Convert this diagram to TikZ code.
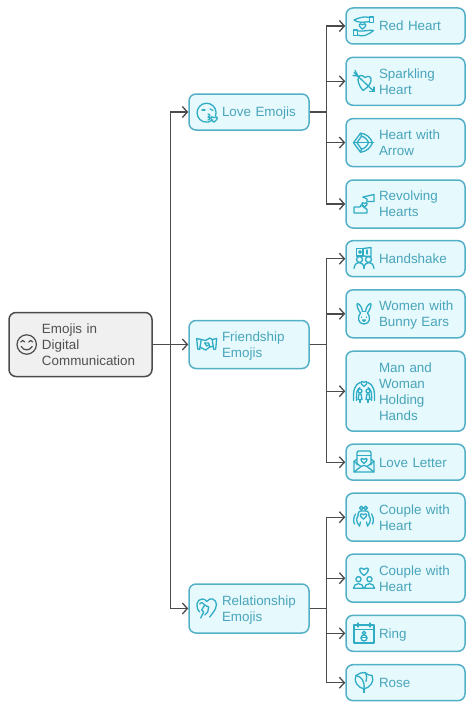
\documentclass[tikz,border=0pt]{standalone}
\usepackage{fontspec}
\setmainfont{Liberation Sans}
\usepackage{xcolor}
\usetikzlibrary{arrows.meta, positioning, calc}
\definecolor{tealline}{RGB}{84, 176, 198}
\definecolor{tealfill}{RGB}{230, 249, 253}
\definecolor{tealtext}{RGB}{72, 164, 186}
\definecolor{tealicon}{RGB}{48, 172, 196}
\definecolor{rootline}{RGB}{75, 75, 75}
\definecolor{rootfill}{RGB}{240, 240, 240}
\definecolor{roottext}{RGB}{80, 80, 80}
\tikzset{
  anybox/.style={draw, line width=1.5pt, rounded corners=7pt, inner xsep=0pt, inner ysep=0pt,
    align=left, font=\fontsize{13.4}{16}\selectfont,
    execute at begin node={\leftskip=33pt\relax\rule{0pt}{12.6pt}},
    execute at end node={\rule[-3pt]{0pt}{3pt}}},
  rootbox/.style={anybox, draw=rootline, fill=rootfill, text=roottext, minimum width=143pt, text width=143pt, minimum height=64pt},
  groupbox/.style={anybox, draw=tealline, fill=tealfill, text=tealtext, minimum width=120pt, text width=120pt},
  leafbox/.style={anybox, draw=tealline, fill=tealfill, text=tealtext, minimum width=119pt, text width=119pt},
  link/.style={line width=1.4pt, draw=rootline, -{Straight Barb[length=5pt,width=11pt,line width=1.3pt]}},
  iconline/.style={draw=tealicon, line width=1.3pt, line cap=round, line join=round},
  faceline/.style={draw=rootline, line width=1.2pt, line cap=round}
}
\newcommand{\heartshape}[3]{\draw[iconline, shift={(#1,#2)}, scale=#3] (0,1) .. controls (-1.6,-0.1) and (-1.1,-1.2) .. (0,-0.4) .. controls (1.1,-1.2) and (1.6,-0.1) .. (0,1) -- cycle;}
\newcommand{\personshape}[2]{\draw[iconline] (#1,#2) circle (2.6) (#1-5,#2+9) .. controls (#1-5,#2+3) and (#1+5,#2+3) .. (#1+5,#2+9) -- cycle;}
\begin{document}
\begin{tikzpicture}[x=1pt, y=-1pt]
  \useasboundingbox (0,0) rectangle (474,709);

  % Root and the three groups
  \node[rootbox] (root) at (80.5,344.5) {Emojis in\\Digital\\Communication};
  \node[groupbox, minimum height=36pt] (love) at (249,112) {Love Emojis};
  \node[groupbox, minimum height=48pt] (friend) at (249,344.5) {Friendship\\Emojis};
  \node[groupbox, minimum height=49pt] (relation) at (249,608.5) {Relationship\\Emojis};

  % Leaves
  \foreach \name/\y/\h/\words in {
      redheart/26/36/{Red Heart},
      sparkling/81.3/48/{Sparkling\\Heart},
      heartarrow/142.6/48/{Heart with\\Arrow},
      revolving/204/48/{Revolving\\Hearts},
      handshake/258.7/36/{Handshake},
      bunny/313.8/48/{Women with\\Bunny Ears},
      holding/391.2/80/{Man and\\Woman\\Holding\\Hands},
      letter/462.2/36/{Love Letter},
      coupleone/517.2/48/{Couple with\\Heart},
      coupletwo/578.2/48/{Couple with\\Heart},
      ring/633.3/36/{Ring},
      rose/682.7/36/{Rose}}
    \node[leafbox, minimum height=\h pt] (\name) at (405.5,\y) {\words};

  % Connectors
  \coordinate (rootbus) at (170.7,344.5);
  \coordinate (lovebus) at (326.7,112);
  \coordinate (friendbus) at (326.7,344.5);
  \coordinate (relationbus) at (326.7,608.5);
  \foreach \group in {love, friend, relation}
    \draw[link] (root.east) -- (rootbus |- root.east) |- (\group.west);
  \foreach \leaf in {redheart, sparkling, heartarrow, revolving}
    \draw[link] (love.east) -- (lovebus |- love.east) |- (\leaf.west);
  \foreach \leaf in {handshake, bunny, holding, letter}
    \draw[link] (friend.east) -- (friendbus |- friend.east) |- (\leaf.west);
  \foreach \leaf in {coupleone, coupletwo, ring, rose}
    \draw[link] (relation.east) -- (relationbus |- relation.east) |- (\leaf.west);

  % Root icon: smiling face
  \begin{scope}[shift={(26.7,344.5)}]
    \draw[faceline] (0,0) circle (9.7);
    \draw[faceline] (-6,-2.5) .. controls (-5,-4.5) and (-3,-4.5) .. (-2,-2.5);
    \draw[faceline] (2,-2.5) .. controls (3,-4.5) and (5,-4.5) .. (6,-2.5);
    \draw[faceline] (-5.5,2) .. controls (-3,6.5) and (3,6.5) .. (5.5,2);
  \end{scope}

  % Love: kissing face
  \begin{scope}[shift={(207,113)}]
    \draw[iconline] (8.5,3) arc (20:-310:9.5);
    \draw[iconline] (-5,-3) -- (-2,-3);
    \draw[iconline] (3,-4) -- (6,-2.5);
    \draw[iconline] (1,1) .. controls (4,2) and (3,4) .. (1,4) .. controls (4,4.5) and (3,7) .. (1,7);
    \heartshape{7}{6}{3.2}
  \end{scope}

  % Friendship: clasped hands
  \begin{scope}[shift={(206.7,344)}]
    \draw[iconline] (-10,-5.5) -- (-5.5,-4.5) -- (-7,5.5) -- (-9,5) -- cycle;
    \draw[iconline] (10,-5.5) -- (5.5,-4.5) -- (7,5.5) -- (9,5) -- cycle;
    \draw[iconline] (-5.5,-4.5) -- (-1,-3.5) -- (3,-6) -- (5.5,-4.5);
    \draw[iconline] (-7,3) -- (-1,6) -- (3,3) -- (6.5,2.5);
    \draw[iconline] (-2,-1) -- (2,-1) -- (3,3);
    \draw[iconline] (-2,-1) -- (0,2) -- (2,1);
  \end{scope}

  % Relationship: heart held by two arms
  \begin{scope}[shift={(206.7,608)}]
    \draw[iconline] (-7,4) .. controls (-12,-1) and (-10,-9) .. (-4.5,-9) .. controls (-2,-9) and (-1,-8) .. (0,-6.5)
      .. controls (2,-9) and (4,-9.5) .. (6,-9) .. controls (11,-7) and (11,-1) .. (6,5) -- (3,9);
    \draw[iconline] (-7,-4) .. controls (-5,-6.5) and (-3,-5) .. (-2,-3) -- (-5,2) -- (-3,4) -- (-6,10);
    \draw[iconline] (-2,-3) -- (2,-1) -- (1,4) -- (-2,7);
  \end{scope}

  % Red Heart: two hands round a heart
  \begin{scope}[shift={(363.5,26.5)}]
    \draw[iconline] (6,-9.5) rectangle (10,-4);
    \draw[iconline] (6,-9) .. controls (1,-10.5) and (-4,-9) .. (-9.5,-6.5) .. controls (-6,-3.5) and (1,-4) .. (6,-5);
    \draw[iconline] (-10,3.5) rectangle (-6,9);
    \draw[iconline] (-6,8.5) .. controls (-1,10.5) and (4,9) .. (10,4) .. controls (6,3) and (3,5) .. (-6,4.5);
    \heartshape{-1}{-0.5}{3.2}
  \end{scope}

  % Sparkling Heart: heart pierced by an arrow
  \begin{scope}[shift={(364,81.5)}]
    \draw[iconline, rotate=-12] (1,9) .. controls (-11,0) and (-6,-9) .. (0,-4) .. controls (6,-10) and (11,-1) .. (1,9) -- cycle;
    \draw[iconline] (-10,-9) -- (10,10);
    \draw[iconline] (-9,-11) -- (-6,-5.5) (-11,-6) -- (-6,-5.5);
    \draw[iconline] (10,5.5) -- (10,10) -- (5.5,10);
  \end{scope}

  % Heart with Arrow: bow and arrow
  \begin{scope}[shift={(363.5,142.7)}]
    \draw[iconline] (-10,0) -- (-3,-9.5) .. controls (3,-9) and (7,-5) .. (9,0) .. controls (7,5) and (3,9) .. (-3,9.5) -- cycle;
    \draw[iconline] (-6.5,0) -- (-2,-6.5) .. controls (1,-6) and (4,-3) .. (5,0) .. controls (4,3) and (1,6) .. (-2,6.5) -- cycle;
    \draw[iconline] (-10,0) -- (10,0);
    \draw[iconline] (-3,-9.5) -- (-2,-6.5) (-3,9.5) -- (-2,6.5);
  \end{scope}

  % Revolving Hearts: two stepped flags
  \begin{scope}[shift={(364,204)}]
    \draw[iconline] (-1,-7) -- (10,-9.5) -- (10,-2.5) -- (3,-2.5);
    \draw[iconline] (-1,-7) -- (3,-5) -- (3,-2.5);
    \draw[iconline] (-10,3) -- (-4,3) -- (-3,1) -- (3,5.5) -- (3,9) -- (-10,9) -- cycle;
    \heartshape{0.5}{0.5}{2.6}
  \end{scope}

  % Handshake: card above two people
  \begin{scope}[shift={(364,259)}]
    \draw[iconline] (-7.5,-10.5) rectangle (-1,-3);
    \draw[iconline] (-1,-10.5) -- (7,-11.5) -- (7,-2.5) -- (-1,-3);
    \draw[iconline] (-4,-7) circle (1.3);
    \draw[iconline] (3,-9) -- (3,-5);
    \draw[iconline] (-4.5,0.5) circle (3);
    \draw[iconline] (4.5,0.5) circle (3);
    \draw[iconline] (-10,9.5) .. controls (-9.5,4) and (-6,3.5) .. (-4.5,3.5) .. controls (-2,3.5) and (0,6) .. (0,9.5);
    \draw[iconline] (0,9.5) .. controls (0,6) and (2,3.5) .. (4.5,3.5) .. controls (6,3.5) and (9.5,4) .. (10,9.5);
  \end{scope}

  % Women with Bunny Ears: rabbit head
  \begin{scope}[shift={(364,314)}]
    \draw[iconline] (-3.5,-1) .. controls (-6,-4) and (-8,-10) .. (-6.5,-10.5) .. controls (-4,-10) and (-2,-6) .. (-1.5,-2.5);
    \draw[iconline] (3.5,-1) .. controls (6,-4) and (8,-10) .. (6.5,-10.5) .. controls (4,-10) and (2,-6) .. (1.5,-2.5);
    \draw[iconline] (-1.5,-2.5) -- (1.5,-2.5);
    \draw[iconline] (-3.5,-1) .. controls (-7,3) and (-6,10) .. (0,10) .. controls (6,10) and (7,3) .. (3.5,-1);
    \draw[iconline] (-2.5,3) -- (-2.5,3.6) (2.5,3) -- (2.5,3.6);
    \draw[iconline] (-1.5,6) .. controls (-1,8) and (1,8) .. (1.5,6) -- cycle;
  \end{scope}

  % Man and Woman Holding Hands: two figures under an arch
  \begin{scope}[shift={(364,391.5)}]
    \draw[iconline] (-10.5,9) .. controls (-11,-2) and (-9,-7) .. (-4,-9);
    \draw[iconline] (10.5,9) .. controls (11,-2) and (9,-7) .. (4,-9);
    \draw[iconline] (-7.5,9) .. controls (-8,1) and (-7,-2) .. (-4,-4);
    \draw[iconline] (7.5,9) .. controls (8,1) and (7,-2) .. (4,-4);
    \heartshape{0}{-8}{3}
    \draw[iconline] (-4,-0.5) circle (2) (4,-0.5) circle (2);
    \draw[iconline] (-6,8) -- (-5,2.5) -- (-3,2.5) -- (-2,8) -- cycle;
    \draw[iconline] (6,8) -- (5,2.5) -- (3,2.5) -- (2,8) -- cycle;
    \draw[iconline] (-4,8) -- (-4,11) (4,8) -- (4,11);
  \end{scope}

  % Love Letter: envelope with a card and a heart
  \begin{scope}[shift={(364,462)}]
    \draw[iconline] (-7,3) -- (-7,-9) .. controls (-7,-11) and (-6,-11) .. (-5,-11) -- (5,-11) .. controls (6,-11) and (7,-11) .. (7,-9) -- (7,3);
    \draw[iconline] (-7,-6.5) -- (7,-6.5);
    \draw[iconline] (-7,-3) -- (-10,-0.5) -- (-10,10) -- (10,10) -- (10,-0.5) -- (7,-3);
    \draw[iconline] (-10,-0.5) -- (-3,4.5) (10,-0.5) -- (3,4.5);
    \draw[iconline] (-10,10) -- (-3,4.5) .. controls (-1,3) and (1,3) .. (3,4.5) -- (10,10);
    \heartshape{0}{-1.5}{3}
  \end{scope}

  % Couple with Heart: pair held in two hands
  \begin{scope}[shift={(363.5,517)}]
    \draw[iconline] (-2.2,-9) circle (1.8) (2.2,-9) circle (1.8);
    \draw[iconline] (-5.5,-1) .. controls (-6,-6) and (-3,-6.5) .. (0,-6) .. controls (3,-6.5) and (6,-6) .. (5.5,-1);
    \heartshape{0}{-1}{3.2}
    \draw[iconline] (-4,9) .. controls (-8,5) and (-7,0) .. (-5.5,-1);
    \draw[iconline] (4,9) .. controls (8,5) and (7,0) .. (5.5,-1);
    \draw[iconline] (-8,-3) .. controls (-10,0) and (-10.5,4) .. (-9,7);
    \draw[iconline] (8,-3) .. controls (10,0) and (10.5,4) .. (9,7);
    \draw[iconline] (-4,9) -- (-3,5) (4,9) -- (3,5);
  \end{scope}

  % Couple with Heart: heart above two people
  \begin{scope}[shift={(364,578)}]
    \heartshape{0}{-7}{4.4}
    \personshape{-5.5}{1.2}
    \personshape{5.5}{1.2}
  \end{scope}

  % Ring: calendar with a ring
  \begin{scope}[shift={(364,633)}]
    \draw[iconline] (-10,-8) rectangle (10,10);
    \draw[iconline] (-10,-3.5) -- (10,-3.5);
    \draw[iconline] (-6,-10) -- (-6,-6) (6,-10) -- (6,-6);
    \draw[iconline] (0,0) circle (1.8);
    \draw[iconline] (0,5) circle (3);
    \draw[iconline] (-3,4.5) -- (3,4.5);
  \end{scope}

  % Rose: flower on a stem
  \begin{scope}[shift={(364,681.5)}]
    \draw[iconline] (-8,-6) .. controls (-11,0) and (-6,6) .. (0,7.5) .. controls (6,6) and (11,0) .. (8,-6) .. controls (5,-6) and (3,-7) .. (1,-9) .. controls (-2,-9.5) and (-5,-8) .. (-8,-6) -- cycle;
    \draw[iconline] (-8,-6) .. controls (-3,-5) and (1,-1) .. (0,7.5);
    \draw[iconline] (1,-9) .. controls (3,-6) and (3,-3) .. (2,0);
    \draw[iconline] (0,7.5) -- (0,11);
  \end{scope}
\end{tikzpicture}
\end{document}
